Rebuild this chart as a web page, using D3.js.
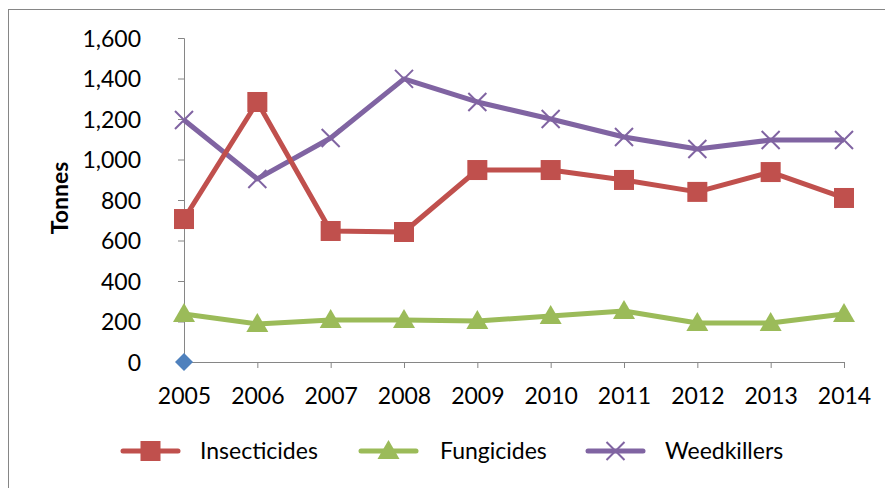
<!DOCTYPE html>
<html>
<head>
<meta charset="utf-8">
<script src="https://cdn.jsdelivr.net/npm/d3@7"></script>
<style>
  body { margin: 0; background: #fff; }
  text { font-family: Lato, "Open Sans", sans-serif; fill: #000; }
</style>
</head>
<body>
<div id="chart"></div>
<script>
// Years on the x axis
const years = ["2005", "2006", "2007", "2008", "2009", "2010", "2011", "2012", "2013", "2014"];

// Tonnes per year
const insecticides = [706, 1284, 647, 642, 948, 948, 899, 840, 938, 810];
const fungicides = [237, 188, 207, 207, 202, 227, 252, 193, 193, 237];
const weedkillers = [1195, 904, 1106, 1398, 1284, 1200, 1111, 1052, 1096, 1096];

// Stray single point sitting on the origin (no legend entry)
const strayPoint = [0];

const yTicks = [0, 200, 400, 600, 800, 1000, 1200, 1400, 1600];

const series = [
  { name: "Insecticides", values: insecticides, color: "#C0504D", marker: "square" },
  { name: "Fungicides", values: fungicides, color: "#9BBB59", marker: "triangle" },
  { name: "Weedkillers", values: weedkillers, color: "#8064A2", marker: "cross" }
];

const width = 885, height = 488;
const plot = { left: 184, right: 844, top: 38, bottom: 362 };
const fontSize = 23;

const svg = d3.select("#chart").append("svg")
  .attr("width", width)
  .attr("height", height);

// outer chart border (runs off the right/bottom edge in the original)
svg.append("rect")
  .attr("x", 8.5).attr("y", 9.5)
  .attr("width", 900).attr("height", 500)
  .attr("fill", "none")
  .attr("stroke", "#868686")
  .attr("stroke-width", 1);

const x = d3.scalePoint()
  .domain(years)
  .range([plot.left, plot.right]);

const y = d3.scaleLinear()
  .domain([0, 1600])
  .range([plot.bottom, plot.top]);

// y axis
const yAxis = svg.append("g")
  .attr("transform", `translate(${plot.left},0)`)
  .call(d3.axisLeft(y).tickValues(yTicks).tickSize(6).tickPadding(37).tickFormat(d3.format(",")));
yAxis.select(".domain").attr("stroke", "#868686");
yAxis.selectAll(".tick line").attr("stroke", "#868686");
yAxis.selectAll("text").attr("font-size", fontSize).attr("dy", "0.35em");

// x axis
const xAxis = svg.append("g")
  .attr("transform", `translate(0,${plot.bottom})`)
  .call(d3.axisBottom(x).tickSize(6).tickPadding(20));
xAxis.select(".domain").attr("stroke", "#868686").attr("d", `M${plot.left},0.5H${plot.right}`);
xAxis.selectAll(".tick line").attr("stroke", "#868686");
xAxis.selectAll(".tick").filter(d => d === years[0]).select("line").remove();
xAxis.selectAll("text").attr("font-size", fontSize).attr("dy", "0.71em");

// y axis title
svg.append("text")
  .attr("transform", `translate(68,198) rotate(-90)`)
  .attr("text-anchor", "middle")
  .attr("font-size", fontSize)
  .attr("font-weight", "bold")
  .text("Tonnes");

const line = d3.line()
  .x((d, i) => x(years[i]))
  .y(d => y(d));

function drawMarker(g, type, color, cx, cy) {
  if (type === "square") {
    g.append("rect")
      .attr("x", cx - 10).attr("y", cy - 10)
      .attr("width", 20).attr("height", 20)
      .attr("fill", color);
  } else if (type === "triangle") {
    g.append("path")
      .attr("d", `M${cx},${cy - 11}L${cx + 11},${cy + 8}L${cx - 11},${cy + 8}Z`)
      .attr("fill", color);
  } else if (type === "cross") {
    g.append("path")
      .attr("d", `M${cx - 9},${cy - 9}L${cx + 9},${cy + 9}M${cx + 9},${cy - 9}L${cx - 9},${cy + 9}`)
      .attr("stroke", color)
      .attr("stroke-width", 2);
  } else if (type === "diamond") {
    g.append("path")
      .attr("d", `M${cx},${cy - 9}L${cx + 9},${cy}L${cx},${cy + 9}L${cx - 9},${cy}Z`)
      .attr("fill", color);
  }
}

// draw order: weedkillers behind, insecticides, fungicides
const drawOrder = [series[2], series[0], series[1]];
drawOrder.forEach(s => {
  const g = svg.append("g");
  g.append("path")
    .datum(s.values)
    .attr("fill", "none")
    .attr("stroke", s.color)
    .attr("stroke-width", 5)
    .attr("stroke-linejoin", "round")
    .attr("d", line);
  s.values.forEach((v, i) => drawMarker(g, s.marker, s.color, x(years[i]), y(v)));
});

// stray diamond
strayPoint.forEach((v, i) => drawMarker(svg.append("g"), "diamond", "#4F81BD", x(years[i]), y(v)));

// legend
const legendItems = [
  { s: series[0], x0: 123, tx: 200 },
  { s: series[1], x0: 361, tx: 440 },
  { s: series[2], x0: 588, tx: 665 }
];
const ly = 451;
legendItems.forEach(item => {
  const g = svg.append("g");
  g.append("line")
    .attr("x1", item.x0).attr("x2", item.x0 + 55)
    .attr("y1", ly).attr("y2", ly)
    .attr("stroke", item.s.color)
    .attr("stroke-width", 5)
    .attr("stroke-linecap", "round");
  drawMarker(g, item.s.marker, item.s.color, item.x0 + 27.5, ly);
  g.append("text")
    .attr("x", item.tx)
    .attr("y", ly)
    .attr("dy", "0.35em")
    .attr("font-size", fontSize)
    .text(item.s.name);
});
</script>
</body>
</html>
